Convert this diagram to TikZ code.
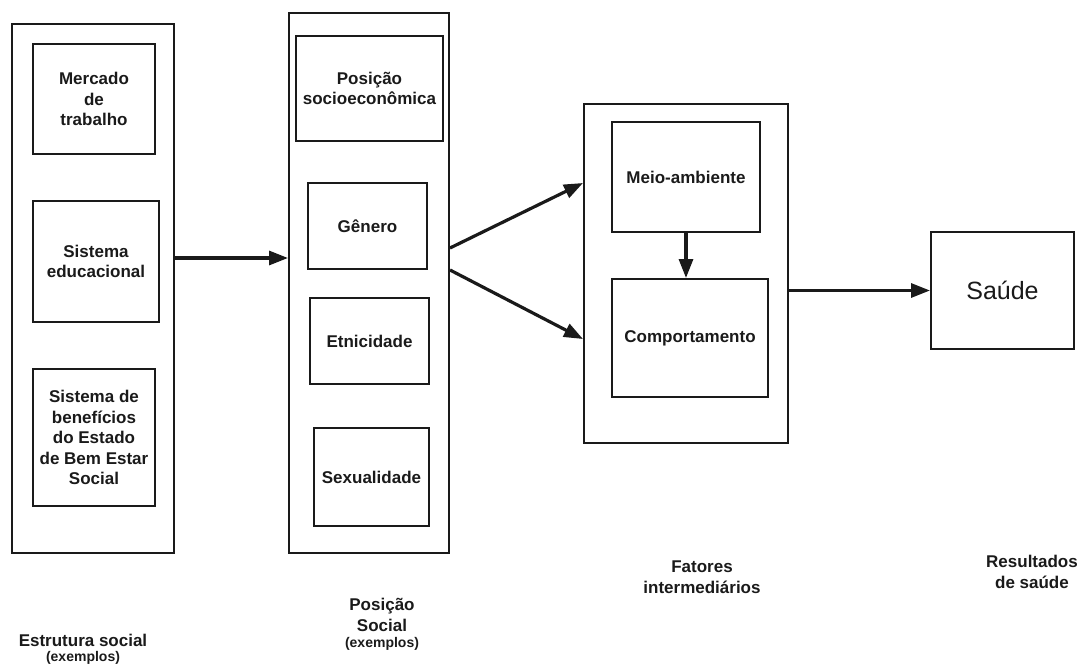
\documentclass[tikz,border=0pt]{standalone}
\usepackage{fontspec}
\setmainfont{Liberation Sans}
\usetikzlibrary{arrows.meta}
\definecolor{ink}{HTML}{1A1A1A}
\begin{document}
\begin{tikzpicture}[x=1pt,y=-1pt,
  box/.style 2 args={draw=ink, line width=2pt, inner sep=0pt, anchor=north west,
    minimum width=#1pt, minimum height=#2pt, align=center, text=ink,
    font=\fontsize{17}{20.5}\selectfont\bfseries},
  lab/.style={inner sep=0pt, align=center, text=ink, font=\fontsize{17}{20.5}\selectfont\bfseries},
  sub/.style={inner sep=0pt, align=center, text=ink, font=\fontsize{14}{16}\selectfont\bfseries},
  arr/.style={draw=ink, line width=3.2pt, -{Triangle[length=19pt,width=14pt]}}]
\useasboundingbox (0,0) rectangle (1080,664);

% Estrutura social
\node[box={162}{529}] (lo) at (11,23) {};
\node[box={122}{110}] (mer) at (32,43) {Mercado\\de\\trabalho};
\node[box={126}{121}] (edu) at (32,200) {Sistema\\educacional};
\node[box={122}{137}] (ben) at (32,368) {Sistema de\\benefícios\\do Estado\\de Bem Estar\\Social};

% Posição social
\node[box={160}{540}] (mo) at (288,12) {};
\node[box={147}{105}] (pos) at (295,35) {Posição\\socioeconômica};
\node[box={119}{86}] (gen) at (307,182) {Gênero};
\node[box={119}{86}] (etn) at (309,297) {Etnicidade};
\node[box={115}{98}] (sex) at (313,427) {Sexualidade};

% Fatores intermediários
\node[box={204}{339}] (ro) at (583,103) {};
\node[box={148}{110}] (mei) at (611,121) {Meio-ambiente};
\node[box={156}{118}] (com) at (611,278) {Comportamento};

% Resultados de saúde
\node[box={143}{117}, font=\fontsize{25}{30}\selectfont] (sau) at (930,231) {Saúde};

% Connectors
\draw[arr] (lo.east |- 0,258) -- (mo.west |- 0,258);
\draw[arr] (mo.east |- 0,248) -- (ro.west |- 0,183);
\draw[arr] (mo.east |- 0,270) -- (ro.west |- 0,339);
\draw[arr] (mei.south) -- (mei.south |- com.north);
\draw[arr] (ro.east |- sau.west) -- (sau.west);

% Column captions
\node[lab] (c1) at (83,640) {Estrutura social};
\node[sub] (c1s) at (83,658) {(exemplos)};
\node[lab] (c2) at (382,615) {Posição\\Social};
\node[sub] (c2s) at (382,644) {(exemplos)};
\node[lab] (c3) at (702,577) {Fatores\\intermediários};
\node[lab] (c4) at (1032,572) {Resultados\\de saúde};
\end{tikzpicture}
\end{document}
